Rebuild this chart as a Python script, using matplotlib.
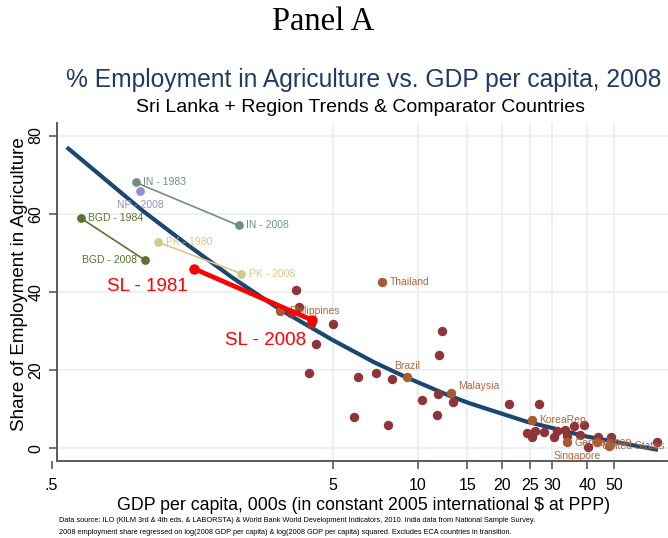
import matplotlib
matplotlib.use("Agg")
import matplotlib.pyplot as plt
import numpy as np

plt.rcParams['font.family'] = ['Liberation Sans', 'DejaVu Sans']

# ---------------- data ----------------
# fitted curve (quadratic in log GDP)
fit_x = [0.566, 1.06, 1.51, 2.2, 3.24, 5.01, 7.0, 9.14, 13.1, 15.3, 24.4, 39.9, 71.4]
fit_y = [77.0, 60.6, 52.2, 43.6, 35.5, 27.6, 22.0, 18.1, 13.3, 11.5, 6.8, 3.0, -0.4]

# other countries (unlabelled)
oth_x = [3.69, 3.79, 3.55, 4.18, 5.01, 4.35, 4.12, 6.15, 7.13, 8.12, 5.92, 7.86,
         12.17, 11.9, 11.78, 10.36, 11.74, 13.35, 21.1, 27.05,
         24.4, 25.5, 26.1, 28.2, 30.5, 31.2, 33.4, 34.0, 35.9, 39.0, 37.7, 40.4,
         43.6, 48.6, 70.7]
oth_y = [40.4, 36.2, 34.7, 31.7, 31.7, 26.6, 19.3, 18.2, 19.2, 17.6, 8.1, 6.0,
         30.1, 23.8, 14.0, 12.4, 8.6, 11.8, 11.4, 11.4,
         4.0, 3.0, 4.5, 4.2, 3.0, 4.5, 4.7, 3.1, 5.7, 5.9, 3.4, 0.4,
         3.0, 3.0, 1.7]

# comparator countries (labelled)
cmp_names = ["Philippines", "Thailand", "Brazil", "Malaysia", "KoreaRep",
             "Germany", "Japan", "United States"]
cmp_x = [3.24, 7.45, 9.16, 13.1, 25.5, 33.8, 43.2, 47.9]
cmp_y = [35.1, 42.6, 18.3, 14.1, 7.2, 1.7, 1.7, 0.7]

# region trends
in_x, in_y = [0.995, 2.31], [68.0, 57.0]
in_lab = ["IN - 1983", "IN - 2008"]
np_x, np_y = [1.03], [65.8]
np_lab = ["NP - 2008"]
bgd_x, bgd_y = [0.634, 1.074], [58.9, 48.1]
bgd_lab = ["BGD - 1984", "BGD - 2008"]
pk_x, pk_y = [1.197, 2.355], [52.7, 44.7]
pk_lab = ["PK - 1980", "PK - 2008"]
sl_x, sl_y = [1.608, 4.21], [45.9, 32.8]
sl_lab = ["SL - 1981", "SL - 2008"]

xticks = [0.5, 5, 10, 15, 20, 25, 30, 40, 50]
xtick_labels = [".5", "5", "10", "15", "20", "25", "30", "40", "50"]
yticks = [0, 20, 40, 60, 80]

# ---------------- colours ----------------
NAVY = "#1a476f"
MAROON = "#8f3439"
SIENNA = "#a85a30"
SIENNA_T = "#b0673f"
IN_C = "#6f8f85"
NP_C = "#9a8ad4"
BGD_C = "#567530"
PK_C = "#d5c98b"
GRID = "#e8f0f2"
AXC = "#5a5a5a"

W, H = 668, 538
fig = plt.figure(figsize=(W / 100, H / 100), dpi=100)

ax_left_px, ax_right_px = 51.6, 668
ax_bot_px, ax_top_px = 461, 123
ax = fig.add_axes([ax_left_px / W, (H - ax_bot_px) / H,
                   (ax_right_px - ax_left_px) / W, (ax_bot_px - ax_top_px) / H])
ax.set_xscale('log')
XMIN, XMAX = 0.5, 77.5
SPX = 0.521
ax.set_xlim(XMIN, XMAX)
ax.set_ylim(-3.25, 83.2)

for s in ['top', 'right']:
    ax.spines[s].set_visible(False)
ax.spines['left'].set_position(('data', SPX))
ax.spines['bottom'].set_bounds(SPX, XMAX)
for s in ['left', 'bottom']:
    ax.spines[s].set_color(AXC)
    ax.spines[s].set_linewidth(1.4)

ax.set_xticks(xticks)
ax.set_xticklabels(xtick_labels, fontsize=11.5)
ax.xaxis.set_minor_locator(matplotlib.ticker.NullLocator())
ax.set_yticks(yticks)
ax.set_yticklabels([str(v) for v in yticks], fontsize=11.5, rotation=90, va='center')
ax.tick_params(axis='both', color=AXC, width=1.2, length=5.5)
ax.tick_params(axis='x', pad=7)
ax.tick_params(axis='y', pad=4)

# grid
ax.hlines(yticks, SPX, XMAX, color=GRID, lw=1.3, zorder=0)
ax.vlines(xticks[1:], -3.25, 83.2, color=GRID, lw=1.3, zorder=0)

# fitted line
ax.plot(fit_x, fit_y, color=NAVY, lw=3.0, zorder=2, solid_capstyle='butt',
        solid_joinstyle='round')

# other countries
ax.scatter(oth_x, oth_y, s=46, color=MAROON, zorder=3, linewidths=0)
# comparators
ax.scatter(cmp_x, cmp_y, s=46, color=SIENNA, zorder=4, linewidths=0)

def lab(x, y, t, dx, dy, color, ha='left', va='center', size=7.5):
    ax.annotate(t, (x, y), xytext=(dx, dy), textcoords='offset points',
                ha=ha, va=va, color=color, fontsize=size, zorder=6)

cmp_off = {
    "Philippines": (6.5, 0, 'left', 'center'),
    "Thailand": (6, 0, 'left', 'center'),
    "Brazil": (0, 8, 'center', 'center'),
    "Malaysia": (5, 5, 'left', 'center'),
    "KoreaRep": (5, 0, 'left', 'center'),
    "Germany": (6, -1, 'left', 'center'),
    "Japan": (5, 0, 'left', 'center'),
    "United States": (40, 0, 'right', 'center'),
}
for n, x, y in zip(cmp_names, cmp_x, cmp_y):
    dx, dy, ha, va = cmp_off[n]
    lab(x, y, n, dx, dy, SIENNA_T, ha, va)
lab(cmp_x[5], cmp_y[5], "Singapore", 8, -10, SIENNA_T, 'center', 'center')

# region trends
def trend(xs, ys, c):
    ax.plot(xs, ys, color=c, lw=1.2, zorder=5, marker='o', ms=6.3,
            markeredgewidth=0)

trend(in_x, in_y, IN_C)
trend(np_x, np_y, NP_C)
trend(bgd_x, bgd_y, BGD_C)
trend(pk_x, pk_y, PK_C)
lab(in_x[0], in_y[0], in_lab[0], 5.5, 0, IN_C)
lab(in_x[1], in_y[1], in_lab[1], 5.5, 0, IN_C)
lab(np_x[0], np_y[0], np_lab[0], 0, -10, NP_C, 'center')
lab(bgd_x[0], bgd_y[0], bgd_lab[0], 5.5, 0, BGD_C)
lab(bgd_x[1], bgd_y[1], bgd_lab[1], -5.5, 0, BGD_C, 'right')
lab(pk_x[0], pk_y[0], pk_lab[0], 5.5, 0, PK_C)
lab(pk_x[1], pk_y[1], pk_lab[1], 5.5, 0, PK_C)

# Sri Lanka
ax.plot(sl_x, sl_y, color='#ff0000', lw=3.4, zorder=7, marker='o', ms=7.5,
        markeredgewidth=0, solid_capstyle='round')
lab(sl_x[0], sl_y[0], sl_lab[0], -5, -12.5, '#ff0000', 'right', 'center', 13.5)
lab(sl_x[1], sl_y[1], sl_lab[1], -4, -14.5, '#ff0000', 'right', 'center', 13.5)

# axis labels
fig.text(20 / W, 1 - 284 / H, "Share of Employment in Agriculture", rotation=90,
         ha='center', va='center', fontsize=13.5)
fig.text(364 / W, 1 - 506 / H,
         "GDP per capita, 000s (in constant 2005 international $ at PPP)",
         ha='center', va='center', fontsize=12.8)

# titles
fig.text(323 / W, 1 - 22 / H, "Panel A", ha='center', va='center',
         fontsize=23.5, family='Liberation Serif')
fig.text(364 / W, 1 - 80 / H,
         "% Employment in Agriculture vs. GDP per capita, 2008",
         ha='center', va='center', fontsize=17.7, color='#1f3a68')
fig.text(360 / W, 1 - 107 / H,
         "Sri Lanka + Region Trends & Comparator Countries",
         ha='center', va='center', fontsize=14)

# notes
fig.text(59 / W, 1 - 520 / H,
         "Data source: ILO (KILM 3rd & 4th eds. & LABORSTA) & World Bank World "
         "Development Indicators, 2010. India data from National Sample Survey.",
         ha='left', va='center', fontsize=5.3)
fig.text(59 / W, 1 - 532 / H,
         "2008 employment share regressed on log(2008 GDP per capita) & log(2008 GDP "
         "per capita) squared. Excludes ECA countries in transition.",
         ha='left', va='center', fontsize=5.3)

fig.savefig("out.png", dpi=100)
